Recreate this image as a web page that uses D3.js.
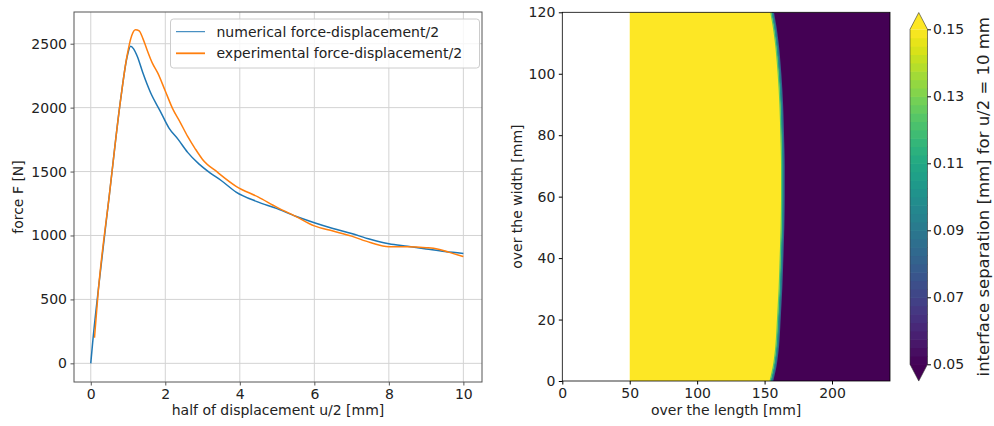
<!DOCTYPE html>
<html>
<head>
<meta charset="utf-8">
<script src="https://cdn.jsdelivr.net/npm/d3@7"></script>
<style>
body { margin: 0; background: #fff; }
svg { font-family: "DejaVu Sans", sans-serif; }
</style>
</head>
<body>
<svg id="chart" width="994" height="426"></svg>
<script>
// left panel: force vs half displacement
const numX = [0, 0.05, 0.2, 0.5, 0.8, 0.97, 1.07, 1.15, 1.25, 1.4, 1.6, 1.86, 2.1, 2.35, 2.6, 2.9, 3.2, 3.5, 3.9, 4.46, 5.0, 5.5, 6.0, 6.5, 7.0, 7.5, 8.0, 8.5, 9.0, 9.5, 10.0];
const numF = [0, 160, 570, 1320, 2060, 2390, 2480, 2460, 2400, 2270, 2120, 1975, 1840, 1750, 1650, 1560, 1490, 1430, 1340, 1265, 1210, 1150, 1100, 1055, 1015, 970, 935, 915, 895, 875, 860];
const expX = [0.1, 0.2, 0.5, 0.8, 0.97, 1.1, 1.2, 1.3, 1.4, 1.5, 1.65, 1.8, 2.0, 2.2, 2.4, 2.6, 2.8, 3.0, 3.4, 3.9, 4.5, 5.0, 5.5, 6.0, 6.5, 7.0, 7.5, 8.0, 8.5, 9.0, 9.3, 9.6, 10.0];
const expF = [200, 560, 1320, 2060, 2400, 2565, 2610, 2600, 2540, 2460, 2350, 2270, 2130, 1990, 1885, 1775, 1680, 1595, 1495, 1385, 1300, 1220, 1150, 1075, 1035, 995, 945, 912, 912, 905, 895, 870, 835];
const seriesNames = ["numerical force-displacement/2", "experimental force-displacement/2"];
const xTicksL = [0, 2, 4, 6, 8, 10];
const yTicksL = [0, 500, 1000, 1500, 2000, 2500];

// right panel: interface separation map
const frontW = [0, 5, 10, 20, 30, 40, 50, 60, 70, 80, 90, 100, 110, 115, 120];
const frontL = [155, 157.5, 159, 160.5, 161.7, 162.5, 163.2, 163.5, 163.5, 163, 162.3, 161, 159, 157.5, 155.5];
const bondStart = 50;
const plateLength = 243;
const plateWidth = 120;
const xTicksR = [0, 50, 100, 150, 200];
const yTicksR = [0, 20, 40, 60, 80, 100, 120];
const cbTicks = [0.05, 0.07, 0.09, 0.11, 0.13, 0.15];
const cbRange = [0.05, 0.15];

const svg = d3.select("#chart");
const textCol = "#222";

// ---------- left panel ----------
const L = {left: 74, right: 482, top: 12, bottom: 382};
const x = d3.scaleLinear([-0.45, 10.5], [L.left, L.right]);
const y = d3.scaleLinear([-146, 2748], [L.bottom, L.top]);

const left = svg.append("g");

// grid
left.selectAll(".gx").data(xTicksL).enter().append("line")
    .attr("x1", d => x(d)).attr("x2", d => x(d))
    .attr("y1", L.top).attr("y2", L.bottom)
    .attr("stroke", "#d3d3d3").attr("stroke-width", 1);
left.selectAll(".gy").data(yTicksL).enter().append("line")
    .attr("x1", L.left).attr("x2", L.right)
    .attr("y1", d => y(d)).attr("y2", d => y(d))
    .attr("stroke", "#d3d3d3").attr("stroke-width", 1);

// curves
const line = d3.line().curve(d3.curveMonotoneX).x(d => x(d[0])).y(d => y(d[1]));
left.append("path")
    .datum(d3.zip(numX, numF))
    .attr("d", line)
    .attr("fill", "none").attr("stroke", "#1f77b4").attr("stroke-width", 1.5);
left.append("path")
    .datum(d3.zip(expX, expF))
    .attr("d", line)
    .attr("fill", "none").attr("stroke", "#ff7f0e").attr("stroke-width", 1.5);

// frame
left.append("rect")
    .attr("x", L.left).attr("y", L.top)
    .attr("width", L.right - L.left).attr("height", L.bottom - L.top)
    .attr("fill", "none").attr("stroke", "#555").attr("stroke-width", 1);

// axes
const axL = left.append("g")
    .attr("transform", `translate(0,${L.bottom})`)
    .call(d3.axisBottom(x).tickValues(xTicksL).tickSize(3.5).tickPadding(3.5).tickSizeOuter(0));
const ayL = left.append("g")
    .attr("transform", `translate(${L.left},0)`)
    .call(d3.axisLeft(y).tickValues(yTicksL).tickFormat(d3.format("d")).tickSize(3.5).tickPadding(3.5).tickSizeOuter(0));
[axL, ayL].forEach(g => {
    g.select(".domain").remove();
    g.selectAll("line").attr("stroke", "#555");
    g.selectAll("text").attr("font-size", 14).attr("fill", textCol).attr("font-family", "DejaVu Sans");
});

left.append("text")
    .attr("x", (L.left + L.right) / 2).attr("y", 415)
    .attr("text-anchor", "middle").attr("font-size", 14).attr("fill", textCol)
    .text("half of displacement u/2 [mm]");
left.append("text")
    .attr("transform", `translate(22.5,${(L.top + L.bottom) / 2}) rotate(-90)`)
    .attr("text-anchor", "middle").attr("font-size", 14).attr("fill", textCol)
    .text("force F [N]");

// legend
const leg = left.append("g");
leg.append("rect")
    .attr("x", 170.5).attr("y", 19).attr("width", 309).attr("height", 49).attr("rx", 3)
    .attr("fill", "#fff").attr("fill-opacity", 0.8)
    .attr("stroke", "#ccc").attr("stroke-width", 1);
seriesNames.forEach((name, i) => {
    const ly = 31.7 + i * 21.6;
    leg.append("line")
        .attr("x1", 176).attr("x2", 205).attr("y1", ly).attr("y2", ly)
        .attr("stroke", i === 0 ? "#1f77b4" : "#ff7f0e").attr("stroke-width", i === 0 ? 1 : 1.8);
    leg.append("text")
        .attr("x", 216.5).attr("y", ly).attr("dy", "0.35em")
        .attr("font-size", 14).attr("fill", textCol)
        .text(name);
});

// ---------- right panel ----------
const R = {left: 562.3, right: 890, top: 12.3, bottom: 381};
const xr = d3.scaleLinear([0, plateLength], [R.left, R.right]);
const yr = d3.scaleLinear([0, plateWidth], [R.bottom, R.top]);
const viridis = d3.interpolateViridis;
const cNorm = d3.scaleLinear(cbRange, [0, 1]);

const right = svg.append("g");
right.append("clipPath").attr("id", "clipR")
    .append("rect")
    .attr("x", R.left).attr("y", R.top)
    .attr("width", R.right - R.left).attr("height", R.bottom - R.top);

const field = right.append("g").attr("clip-path", "url(#clipR)");
const front = d3.zip(frontW, frontL);

field.append("path")
    .datum(front)
    .attr("d", d3.area().curve(d3.curveMonotoneY)
        .y(d => yr(d[0])).x0(xr(bondStart)).x1(d => xr(d[1])))
    .attr("fill", viridis(1));
field.append("path")
    .datum(front)
    .attr("d", d3.area().curve(d3.curveMonotoneY)
        .y(d => yr(d[0])).x0(d => xr(d[1])).x1(xr(plateLength)))
    .attr("fill", viridis(0));

// thin transition band along the front
const frontLine = d3.line().curve(d3.curveMonotoneY).x(d => xr(d[1])).y(d => yr(d[0]));
field.append("path").datum(front).attr("d", frontLine)
    .attr("transform", "translate(1.2,0)")
    .attr("fill", "none").attr("stroke", viridis(0.3)).attr("stroke-width", 1.5);
field.append("path").datum(front).attr("d", frontLine)
    .attr("fill", "none").attr("stroke", viridis(0.5)).attr("stroke-width", 1.8);
field.append("path").datum(front).attr("d", frontLine)
    .attr("transform", "translate(-1.2,0)")
    .attr("fill", "none").attr("stroke", viridis(0.75)).attr("stroke-width", 1.2);

// spines
right.append("rect")
    .attr("x", R.left).attr("y", R.top)
    .attr("width", R.right - R.left).attr("height", R.bottom - R.top)
    .attr("fill", "none").attr("stroke", "#000").attr("stroke-width", 0.8);

const axR = right.append("g")
    .attr("transform", `translate(0,${R.bottom})`)
    .call(d3.axisBottom(xr).tickValues(xTicksR).tickSize(3.5).tickPadding(3.5).tickSizeOuter(0));
const ayR = right.append("g")
    .attr("transform", `translate(${R.left},0)`)
    .call(d3.axisLeft(yr).tickValues(yTicksR).tickSize(3.5).tickPadding(3.5).tickSizeOuter(0));
[axR, ayR].forEach(g => {
    g.select(".domain").remove();
    g.selectAll("line").attr("stroke", "#000");
    g.selectAll("text").attr("font-size", 14).attr("fill", textCol).attr("font-family", "DejaVu Sans");
});

right.append("text")
    .attr("x", (R.left + R.right) / 2).attr("y", 415)
    .attr("text-anchor", "middle").attr("font-size", 14).attr("fill", textCol)
    .text("over the length [mm]");
right.append("text")
    .attr("transform", `translate(522,${(R.top + R.bottom) / 2}) rotate(-90)`)
    .attr("text-anchor", "middle").attr("font-size", 14).attr("fill", textCol)
    .text("over the width [mm]");

// ---------- colorbar ----------
const cbX = 910, cbW = 17.5;
const cbY = d3.scaleLinear(cbRange, [364.3, 29.3]);
const ext = 0.05 * (cbY(cbRange[0]) - cbY(cbRange[1]));
const cb = svg.append("g");
const step = 0.0025;
const levels = d3.range(cbRange[0], cbRange[1] - 1e-9, step);
cb.selectAll("rect.lv").data(levels).enter().append("rect")
    .attr("x", cbX).attr("width", cbW)
    .attr("y", d => cbY(d + step))
    .attr("height", d => cbY(d) - cbY(d + step) + 0.6)
    .attr("fill", d => viridis(cNorm(d + step / 2)));
cb.append("path")
    .attr("d", `M${cbX},${cbY(cbRange[1])}L${cbX + cbW / 2},${cbY(cbRange[1]) - ext}L${cbX + cbW},${cbY(cbRange[1])}Z`)
    .attr("fill", viridis(1));
cb.append("path")
    .attr("d", `M${cbX},${cbY(cbRange[0])}L${cbX + cbW / 2},${cbY(cbRange[0]) + ext}L${cbX + cbW},${cbY(cbRange[0])}Z`)
    .attr("fill", viridis(0));
cb.append("path")
    .attr("d", `M${cbX},${cbY(cbRange[1])}L${cbX + cbW / 2},${cbY(cbRange[1]) - ext}L${cbX + cbW},${cbY(cbRange[1])}` +
               `L${cbX + cbW},${cbY(cbRange[0])}L${cbX + cbW / 2},${cbY(cbRange[0]) + ext}L${cbX},${cbY(cbRange[0])}Z`)
    .attr("fill", "none").attr("stroke", "#333").attr("stroke-width", 0.6);

const acb = cb.append("g")
    .attr("transform", `translate(${cbX + cbW},0)`)
    .call(d3.axisRight(cbY).tickValues(cbTicks).tickFormat(d3.format(".2f")).tickSize(3.5).tickPadding(2).tickSizeOuter(0));
acb.select(".domain").remove();
acb.selectAll("line").attr("stroke", "#000");
acb.selectAll("text").attr("font-size", 14).attr("fill", textCol).attr("font-family", "DejaVu Sans");

cb.append("text")
    .attr("transform", `translate(989,${(cbY(cbRange[0]) + ext + cbY(cbRange[1]) - ext) / 2}) rotate(-90)`)
    .attr("text-anchor", "middle").attr("font-size", 16.5).attr("fill", textCol)
    .text("interface separation [mm] for u/2 = 10 mm");
</script>
</body>
</html>
